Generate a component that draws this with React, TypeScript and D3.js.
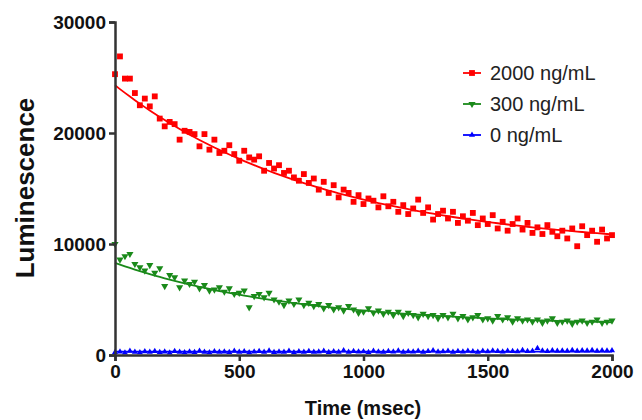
import { useEffect, useRef } from "react";
import * as d3 from "d3";

const times = d3.range(0, 2001, 20);

const red = [
  25300, 26900, 24900, 24900, 23600, 22500, 23100, 22400, 23300, 21300,
  20600, 21000, 20800, 19400, 20200, 20100, 19900, 18800, 19900, 18500,
  19400, 18200, 18400, 18900, 18100, 17500, 18400, 17800, 17600, 17900,
  16600, 17300, 16800, 17100, 16400, 16600, 16000, 15700, 16300, 15500,
  15900, 14900, 15600, 14600, 15300, 14200, 14900, 14600, 13800, 14400,
  13600, 14100, 13900, 13300, 14300, 13400, 13800, 12900, 13500, 12700,
  13200, 14000, 12800, 13300, 12200, 12700, 13000, 12300, 12900, 11900,
  12500, 12100, 12800, 11700, 12300, 11800, 12600, 11400, 12000, 11200,
  11800, 12300, 11300, 11900, 11000, 11500, 10900, 11700, 11100, 10700,
  11200, 10500, 11400, 9800, 11600, 10800, 11200, 10200, 11300, 10500, 10800,
];

const green = [
  10000, 8600, 8900, 9100, 8200, 7900, 7600, 8100, 7400, 7800,
  6200, 7200, 7000, 6100, 6700, 6400, 6600, 6000, 6300, 5800,
  5900, 6100, 5700, 6000, 5500, 5600, 5800, 4300, 5300, 5500,
  5200, 5600, 5000, 4800, 4500, 4900, 4600, 5000, 4500, 4700,
  4400, 4600, 4200, 4500, 4100, 4300, 4000, 4400, 4100, 3800,
  3900, 4200, 3800, 4000, 3700, 3900, 3600, 3900, 3500, 3800,
  3600, 3400, 3700, 3500, 3600, 3300, 3600, 3400, 3700, 3300,
  3500, 3200, 3400, 3600, 3200, 3300, 3100, 3500, 3200, 3400,
  3000, 3300, 3100, 3200, 3000, 3200, 2900, 3100, 3300, 2900,
  3000, 3100, 2800, 3000, 3100, 2900, 3000, 3200, 2900, 3000, 3100,
];

const blue = [
  250, 300, 200, 350, 280, 220, 310, 260, 330, 240,
  290, 210, 340, 270, 230, 300, 250, 360, 280, 220,
  320, 260, 300, 240, 350, 270, 310, 230, 290, 330,
  260, 380, 240, 300, 270, 350, 220, 310, 280, 340,
  260, 300, 370, 250, 320, 280, 400, 260, 330, 290,
  310, 250, 360, 300, 270, 340, 290, 380, 260, 320,
  300, 350, 270, 330, 400, 290, 310, 360, 280, 340,
  300, 370, 320, 280, 350, 310, 390, 330, 300, 360,
  340, 310, 420, 330, 360, 600, 380, 340, 400, 360,
  390, 350, 420, 370, 400, 380, 430, 360, 410, 390, 400,
];

// one-phase decay fit parameters: plateau, span, rate (per msec)
const fits = [
  { plateau: 9500, span: 14800, k: 0.00119 },
  { plateau: 2600, span: 5700, k: 0.0014 },
  { plateau: 300, span: 0, k: 0 },
];

const seriesNames = ["2000 ng/mL", "300 ng/mL", "0 ng/mL"];
const colors = ["#ff0000", "#1a8a1a", "#0000ff"];
const symbols = [d3.symbolSquare, d3.symbolTriangle, d3.symbolTriangle];
const symbolSizes = [34, 22, 16];
const rotations = [0, 180, 0];

const xTicks = [0, 500, 1000, 1500, 2000];
const yTicks = [0, 10000, 20000, 30000];

export default function App() {
  const ref = useRef<SVGSVGElement>(null);

  useEffect(() => {
    if (!ref.current) return;
    const svg = d3.select(ref.current);
    svg.selectAll("*").remove();

    const x = d3.scaleLinear().domain([0, 2000]).range([115, 612]);
    const y = d3.scaleLinear().domain([0, 30000]).range([355, 22]);
    const font = "Liberation Sans, Arial, sans-serif";

    const all = [red, green, blue];
    // draw blue first so red sits on top
    [2, 1, 0].forEach((i) => {
      const f = fits[i];
      const line = d3
        .line<number>()
        .x((t) => x(t))
        .y((t) => y(f.plateau + f.span * Math.exp(-f.k * t)));
      svg
        .append("path")
        .datum(times)
        .attr("d", line)
        .attr("fill", "none")
        .attr("stroke", colors[i])
        .attr("stroke-width", 1.8);

      const sym = d3.symbol().type(symbols[i]).size(symbolSizes[i]);
      svg
        .append("g")
        .selectAll("path")
        .data(all[i])
        .join("path")
        .attr("d", sym)
        .attr("fill", colors[i])
        .attr(
          "transform",
          (d, j) => `translate(${x(times[j])},${y(d)}) rotate(${rotations[i]})`
        );
    });

    const axisColor = "#333";
    const xa = svg
      .append("g")
      .attr("transform", "translate(0,355)")
      .call(d3.axisBottom(x).tickValues(xTicks).tickFormat(d3.format("d")).tickSize(6).tickPadding(4));
    const ya = svg
      .append("g")
      .attr("transform", "translate(115,0)")
      .call(d3.axisLeft(y).tickValues(yTicks).tickFormat(d3.format("d")).tickSize(6).tickPadding(3));
    [xa, ya].forEach((a) => {
      a.select(".domain").attr("stroke", axisColor).attr("stroke-width", 2.5);
      a.selectAll(".tick line").attr("stroke", axisColor).attr("stroke-width", 2.5);
      a.selectAll(".tick text")
        .attr("fill", "#111")
        .style("font-family", font)
        .style("font-size", "19px")
        .style("font-weight", "bold");
    });

    svg
      .append("text")
      .attr("x", 363)
      .attr("y", 415)
      .attr("text-anchor", "middle")
      .style("font-family", font)
      .style("font-size", "20px")
      .style("font-weight", "bold")
      .attr("fill", "#111")
      .text("Time (msec)");

    svg
      .append("text")
      .attr("transform", "translate(34,188) rotate(-90)")
      .attr("text-anchor", "middle")
      .style("font-family", font)
      .style("font-size", "26px")
      .style("font-weight", "bold")
      .attr("fill", "#111")
      .text("Luminescence");

    seriesNames.forEach((name, i) => {
      const ly = 73 + i * 31;
      const g = svg.append("g");
      g.append("line")
        .attr("x1", 463).attr("x2", 481).attr("y1", ly).attr("y2", ly)
        .attr("stroke", colors[i]).attr("stroke-width", 1.8);
      g.append("path")
        .attr("d", d3.symbol().type(symbols[i]).size(symbolSizes[i])())
        .attr("transform", `translate(472,${ly}) rotate(${rotations[i]})`)
        .attr("fill", colors[i]);
      g.append("text")
        .attr("x", 490)
        .attr("y", ly + 7)
        .style("font-family", font)
        .style("font-size", "20px")
        .attr("fill", "#222")
        .text(name);
    });
  }, []);

  return (
    <svg
      ref={ref}
      width={642}
      height={420}
      style={{ position: "absolute", left: 0, top: 0, background: "#fff" }}
    />
  );
}
